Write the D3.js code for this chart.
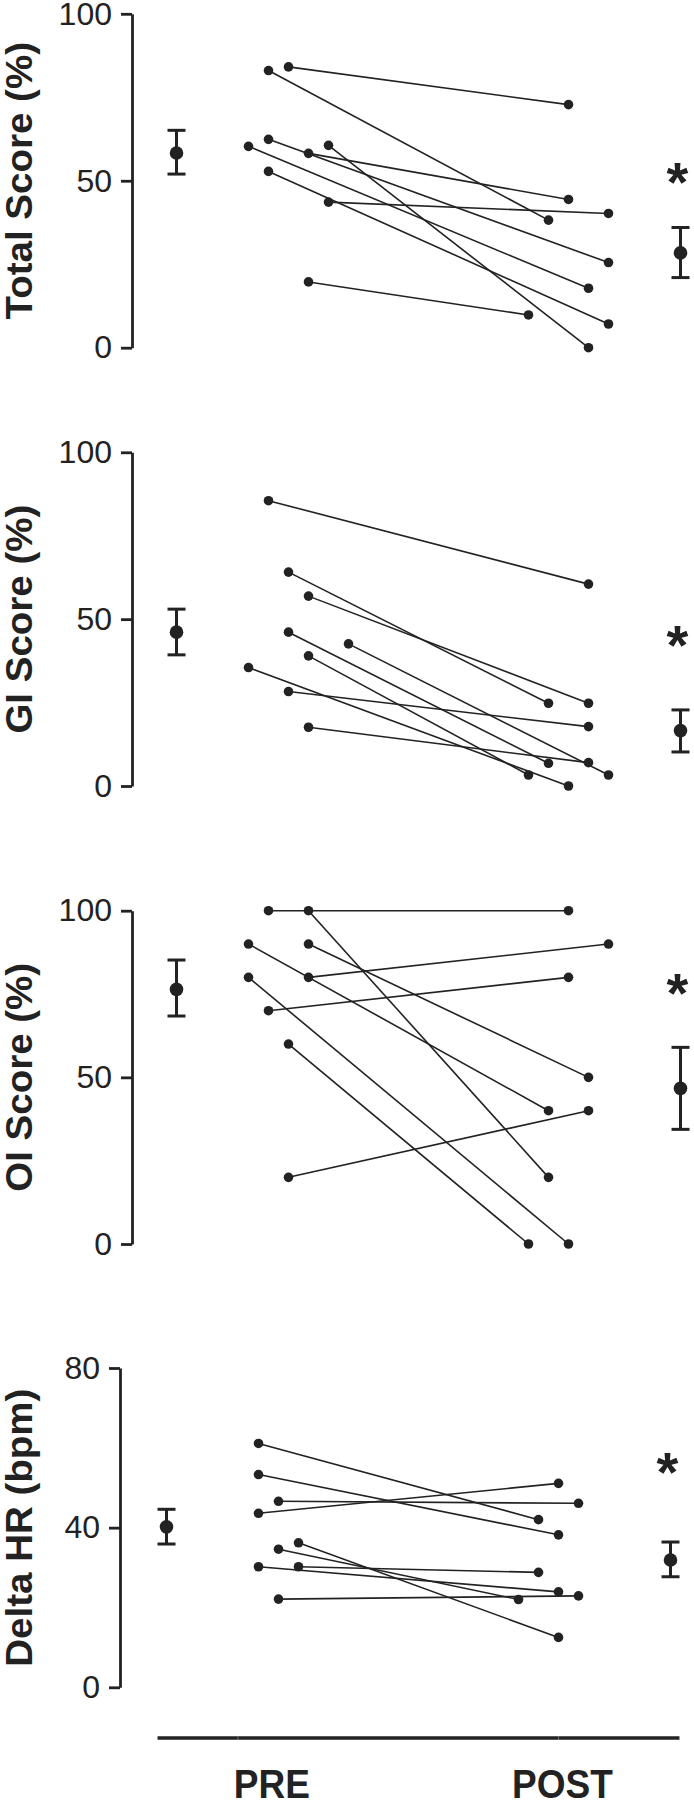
<!DOCTYPE html>
<html>
<head>
<meta charset="utf-8">
<script src="https://cdn.jsdelivr.net/npm/d3@7"></script>
<style>
  html, body { margin: 0; padding: 0; background: #fff; }
  svg { display: block; }
  text { font-family: "Liberation Sans", Arial, Helvetica, sans-serif; fill: #222; }
</style>
</head>
<body>
<svg id="chart" width="694" height="1800"></svg>
<script>
// ---------------- DATA ----------------
const groups = ["PRE", "POST"];
const panelTitles = ["Total Score (%)", "GI Score (%)", "OI Score (%)", "Delta HR (bpm)"];
const panelMax = [100, 100, 100, 80];
const panelTicks = [[0, 50, 100], [0, 50, 100], [0, 50, 100], [0, 40, 80]];

// Panel 1: Total Score
const totalPre      = [84.1, 83.0, 62.4, 58.2, 60.6, 43.6, 19.7, 52.8, 60.3];
const totalPost     = [72.8, 38.2, 25.5, 44.4, 0.0, 40.2, 9.8, 7.1, 17.8];
const totalPreSlot  = [0, -1, -1, 1, 2, 2, 1, -1, -2];
const totalPostSlot = [0, -1, 2, 0, 1, 2, -2, 2, 1];

// Panel 2: GI Score
const giPre      = [85.5, 64.1, 56.9, 46.1, 42.6, 39.0, 35.5, 28.3, 17.6];
const giPost     = [60.5, 24.8, 24.8, 6.8, 3.3, 3.3, 0.0, 17.8, 7.0];
const giPreSlot  = [-1, 0, 1, 0, 3, 1, -2, 0, 1];
const giPostSlot = [1, -1, 1, -1, 2, -2, 0, 1, 1];

// Panel 3: OI Score
const oiPre      = [100, 100, 90, 80, 90, 70, 80, 60, 20];
const oiPost     = [100, 20, 40, 90, 50, 80, 0, 0, 40];
const oiPreSlot  = [-1, 1, -2, 1, 1, -1, -2, 0, 0];
const oiPostSlot = [0, -1, -1, 2, 1, 0, 0, -2, 1];

// Panel 4: Delta HR
const hrPre      = [61.1, 53.3, 46.6, 43.6, 36.2, 34.6, 30.2, 30.2, 22.1];
const hrPost     = [42.0, 38.2, 46.1, 51.1, 12.5, 22.0, 23.9, 28.8, 22.9];
const hrPreSlot  = [-1, -1, 0, -1, 1, 0, -1, 1, 0];
const hrPostSlot = [-1, 0, 1, 0, 0, -2, 0, -1, 1];

// Group means with error bars [mean, low, high]
const meanPre  = [[58.3, 52.0, 65.1], [46.1, 39.3, 53.0], [76.4, 68.4, 85.2], [40.2, 35.9, 44.6]];
const meanPost = [[28.4, 21.0, 36.0], [16.6, 10.2, 22.8], [46.7, 34.4, 59.0], [31.9, 27.7, 36.4]];
// significance marker (value level at which "*" is drawn)
const sigLevel = [52.2, 44.7, 77.7, 56.1];

// ---------------- LAYOUT ----------------
const svg = d3.select("#chart");
const ink = "#222";
const panels = [
  {pre: totalPre, post: totalPost, ps: totalPreSlot, qs: totalPostSlot},
  {pre: giPre, post: giPost, ps: giPreSlot, qs: giPostSlot},
  {pre: oiPre, post: oiPost, ps: oiPreSlot, qs: oiPostSlot},
  {pre: hrPre, post: hrPost, ps: hrPreSlot, qs: hrPostSlot}
];
const frames = [
  {axisX: 132, x0: 288.5, x1: 568.5, yTop: 13.8, yBot: 347.7},
  {axisX: 132, x0: 288.5, x1: 568.5, yTop: 452.3, yBot: 786},
  {axisX: 132, x0: 288.5, x1: 568.5, yTop: 910.7, yBot: 1244},
  {axisX: 120, x0: 278.5, x1: 558.5, yTop: 1368, yBot: 1687.3}
];
const slotStep = 20 / 280; // in group units

panels.forEach((p, i) => {
  const f = frames[i];
  const x = d3.scaleLinear().domain([0, 1]).range([f.x0, f.x1]);
  const y = d3.scaleLinear().domain([0, panelMax[i]]).range([f.yBot, f.yTop]);
  const g = svg.append("g");

  // y axis
  const ax = g.append("g")
    .attr("transform", `translate(${f.axisX},0)`)
    .call(d3.axisLeft(y).tickValues(panelTicks[i]).tickSize(11).tickSizeOuter(0).tickPadding(9));
  ax.select(".domain").attr("stroke", ink).attr("stroke-width", 2.8);
  ax.selectAll(".tick line").attr("stroke", ink).attr("stroke-width", 2.8);
  ax.selectAll(".tick text")
    .attr("fill", ink)
    .style("font-family", '"Liberation Sans", Arial, sans-serif')
    .style("font-size", "32px");

  // y label
  g.append("text")
    .attr("transform", `translate(32,${(f.yTop + f.yBot) / 2}) rotate(-90) scale(1.07,1)`)
    .attr("text-anchor", "middle")
    .style("font-size", "36px")
    .style("font-weight", "bold")
    .text(panelTitles[i]);

  // paired lines
  const pairs = p.pre.map((v, k) => ({
    x0: x(0 + p.ps[k] * slotStep), y0: y(v),
    x1: x(1 + p.qs[k] * slotStep), y1: y(p.post[k])
  }));
  g.selectAll("line.pair").data(pairs).join("line")
    .attr("class", "pair")
    .attr("x1", d => d.x0).attr("y1", d => d.y0)
    .attr("x2", d => d.x1).attr("y2", d => d.y1)
    .attr("stroke", ink).attr("stroke-width", 1.6);
  g.selectAll("circle.pre").data(pairs).join("circle")
    .attr("class", "pre")
    .attr("cx", d => d.x0).attr("cy", d => d.y0).attr("r", 4.8).attr("fill", ink);
  g.selectAll("circle.post").data(pairs).join("circle")
    .attr("class", "post")
    .attr("cx", d => d.x1).attr("cy", d => d.y1).attr("r", 4.8).attr("fill", ink);

  // means with error bars
  const means = [
    {pos: -0.4, m: meanPre[i]},
    {pos: 1.4, m: meanPost[i]}
  ];
  means.forEach(mm => {
    const cx = x(mm.pos);
    const eb = g.append("g");
    eb.append("line").attr("x1", cx).attr("x2", cx)
      .attr("y1", y(mm.m[1])).attr("y2", y(mm.m[2]))
      .attr("stroke", ink).attr("stroke-width", 3);
    [mm.m[1], mm.m[2]].forEach(v => {
      eb.append("line").attr("x1", cx - 9).attr("x2", cx + 9)
        .attr("y1", y(v)).attr("y2", y(v))
        .attr("stroke", ink).attr("stroke-width", 3);
    });
    eb.append("circle").attr("cx", cx).attr("cy", y(mm.m[0])).attr("r", 6.8).attr("fill", ink);
  });

  // significance asterisk
  g.append("text")
    .attr("x", x(1.4) - 3)
    .attr("y", y(sigLevel[i]))
    .attr("dy", "0.49em")
    .attr("text-anchor", "middle")
    .style("font-size", "56px")
    .style("font-weight", "bold")
    .text("*");
});

// bottom axis
const xb = d3.scaleLinear().domain([0, 1]).range([278.5, 558.5]);
const bottomY = 1738;
const bax = svg.append("g").attr("transform", `translate(0,${bottomY})`);
bax.append("line")
  .attr("x1", xb(-0.432)).attr("x2", xb(1.432))
  .attr("stroke", ink).attr("stroke-width", 3.4);
bax.selectAll("line.tk").data([-0.145, 1]).join("line")
  .attr("class", "tk")
  .attr("x1", d => xb(d)).attr("x2", d => xb(d))
  .attr("y1", -2).attr("y2", 2)
  .attr("stroke", "#777").attr("stroke-width", 1);
svg.selectAll("text.grp").data(groups).join("text")
  .attr("class", "grp")
  .attr("transform", (d, k) => `translate(${k === 0 ? xb(-0.024) : xb(1.014)},1797.5) scale(1,1.08)`)
  .attr("text-anchor", "middle")
  .style("font-size", "37px")
  .style("font-weight", "bold")
  .text(d => d);
</script>
</body>
</html>
